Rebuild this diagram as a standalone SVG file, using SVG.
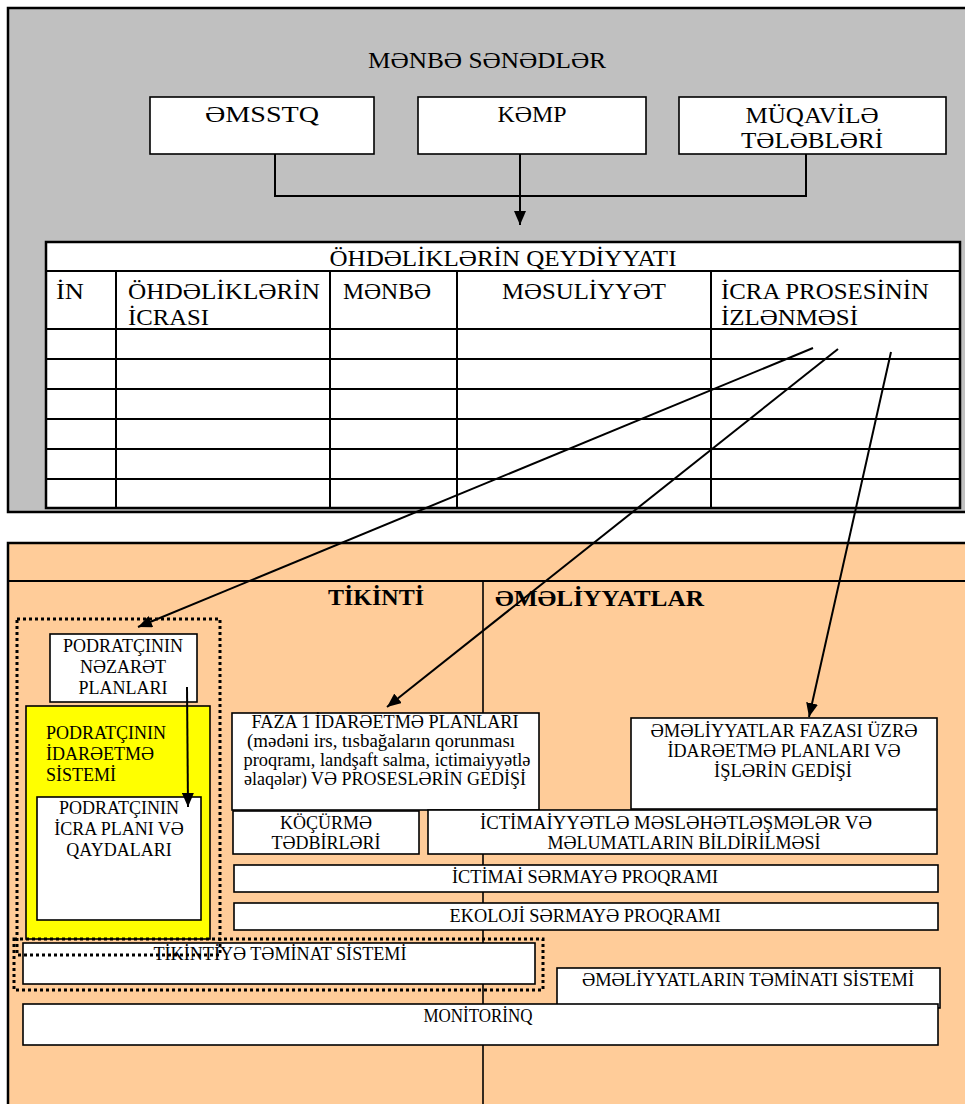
<svg xmlns="http://www.w3.org/2000/svg" width="965" height="1104" viewBox="0 0 965 1104">
<defs>
<marker id="ah" viewBox="0 0 14 12" refX="14" refY="6" markerWidth="14" markerHeight="12" markerUnits="userSpaceOnUse" orient="auto">
<path d="M0,0 L14,6 L0,12 z" fill="#000"/>
</marker>
<style>
text{font-family:"Liberation Serif","DejaVu Serif","Times New Roman",serif;fill:#000}
.t24{font-size:24px}
.t18{font-size:18px}
.hd{font-size:24px;font-weight:bold}
.c{text-anchor:middle}
.box{fill:#fff;stroke:#000;stroke-width:1.6}
.grid{stroke:#000;stroke-width:2;fill:none}
.dot{fill:none;stroke:#000;stroke-width:3;stroke-dasharray:3 3}
.ln{fill:none;stroke:#000;stroke-width:2}
</style>
</defs>

<!-- top gray panel -->
<g id="panel-top">
<rect x="8" y="8" width="970" height="504" fill="#C0C0C0" stroke="#000" stroke-width="2.5"/>
<text class="t24 c" x="487" y="68" textLength="238" lengthAdjust="spacingAndGlyphs">MƏNBƏ SƏNƏDLƏR</text>
</g>

<g id="n-emsstq">
<rect class="box" x="150" y="97" width="224" height="57"/>
<text class="t24 c" x="262" y="122" textLength="114" lengthAdjust="spacingAndGlyphs">ƏMSSTQ</text>
</g>
<g id="n-kemp">
<rect class="box" x="418" y="97" width="228" height="57"/>
<text class="t24 c" x="532" y="122" textLength="69" lengthAdjust="spacingAndGlyphs">KƏMP</text>
</g>
<g id="n-muqavile">
<rect class="box" x="679" y="97" width="267" height="57"/>
<text class="t24 c" x="812" y="123" textLength="133" lengthAdjust="spacingAndGlyphs">MÜQAVİLƏ</text>
<text class="t24 c" x="812" y="148" textLength="142" lengthAdjust="spacingAndGlyphs">TƏLƏBLƏRİ</text>
</g>

<!-- table -->
<g id="n-table">
<rect x="46" y="242" width="914" height="266" fill="#fff" stroke="#000" stroke-width="2.5"/>
<path class="grid" d="M46,271 H960 M46,329 H960 M46,359 H960 M46,389 H960 M46,419 H960 M46,449 H960 M46,479 H960 M116,271 V508 M330,271 V508 M457,271 V508 M711,271 V508"/>
<text class="t24 c" x="503" y="266" textLength="347" lengthAdjust="spacingAndGlyphs">ÖHDƏLİKLƏRİN QEYDİYYATI</text>
<text class="t24" x="56" y="299" textLength="28" lengthAdjust="spacingAndGlyphs">İN</text>
<text class="t24" x="128" y="299" textLength="192" lengthAdjust="spacingAndGlyphs">ÖHDƏLİKLƏRİN</text>
<text class="t24" x="128" y="325" textLength="81" lengthAdjust="spacingAndGlyphs">İCRASI</text>
<text class="t24" x="343" y="299" textLength="88" lengthAdjust="spacingAndGlyphs">MƏNBƏ</text>
<text class="t24 c" x="584" y="299" textLength="164" lengthAdjust="spacingAndGlyphs">MƏSULİYYƏT</text>
<text class="t24" x="721" y="299" textLength="208" lengthAdjust="spacingAndGlyphs">İCRA PROSESİNİN</text>
<text class="t24" x="721" y="325" textLength="137" lengthAdjust="spacingAndGlyphs">İZLƏNMƏSİ</text>
</g>

<!-- bottom orange panel -->
<g id="panel-bottom">
<rect x="8" y="543" width="970" height="580" fill="#FFCC99" stroke="#000" stroke-width="2.5"/>
<line x1="8" y1="581" x2="965" y2="581" stroke="#000" stroke-width="2"/>
<line x1="483" y1="581" x2="483" y2="1104" stroke="#000" stroke-width="1.6"/>
<text class="hd c" x="376" y="605">TİKİNTİ</text>
<text class="hd" x="495" y="606" textLength="209" lengthAdjust="spacingAndGlyphs">ƏMƏLİYYATLAR</text>
</g>

<g id="n-nezaret">
<rect class="box" x="50" y="634" width="147" height="68"/>
<text class="t18 c" x="123" y="652">PODRATÇININ</text>
<text class="t18 c" x="123" y="673">NƏZARƏT</text>
<text class="t18 c" x="123" y="694">PLANLARI</text>
</g>

<g id="n-idareetme">
<rect x="26" y="706" width="184" height="233" fill="#FFFF00" stroke="#000" stroke-width="1.6"/>
<text class="t18" x="46" y="739">PODRATÇININ</text>
<text class="t18" x="46" y="760">İDARƏETMƏ</text>
<text class="t18" x="46" y="781">SİSTEMİ</text>
</g>
<g id="n-icra">
<rect class="box" x="37" y="797" width="164" height="123"/>
<text class="t18 c" x="119" y="814">PODRATÇININ</text>
<text class="t18 c" x="119" y="835">İCRA PLANI VƏ</text>
<text class="t18 c" x="119" y="856">QAYDALARI</text>
</g>

<g id="n-faza1">
<rect class="box" x="232" y="713" width="307" height="97"/>
<text class="t18 c" x="385" y="728" textLength="267" lengthAdjust="spacingAndGlyphs">FAZA 1 İDARƏETMƏ PLANLARI</text>
<text class="t18 c" x="381" y="747" textLength="268" lengthAdjust="spacingAndGlyphs">(mədəni irs, tısbağaların qorunması</text>
<text class="t18 c" x="387" y="766" textLength="287" lengthAdjust="spacingAndGlyphs">proqramı, landşaft salma, ictimaiyyətlə</text>
<text class="t18 c" x="385" y="785" textLength="282" lengthAdjust="spacingAndGlyphs">əlaqələr) VƏ PROSESLƏRİN GEDİŞİ</text>
</g>

<g id="n-emeliyyat-faza">
<rect class="box" x="631" y="718" width="306" height="91"/>
<text class="t18 c" x="784" y="737" textLength="267" lengthAdjust="spacingAndGlyphs">ƏMƏLİYYATLAR FAZASI ÜZRƏ</text>
<text class="t18 c" x="784" y="757" textLength="233" lengthAdjust="spacingAndGlyphs">İDARƏETMƏ PLANLARI VƏ</text>
<text class="t18 c" x="783" y="777" textLength="138" lengthAdjust="spacingAndGlyphs">İŞLƏRİN GEDİŞİ</text>
</g>

<g id="n-kocurme">
<rect class="box" x="233" y="811" width="186" height="43"/>
<text class="t18 c" x="326" y="829">KÖÇÜRMƏ</text>
<text class="t18 c" x="326" y="849">TƏDBİRLƏRİ</text>
</g>

<g id="n-ictimaiyyet">
<rect class="box" x="428" y="810" width="509" height="44"/>
<text class="t18 c" x="676" y="829" textLength="392" lengthAdjust="spacingAndGlyphs">İCTİMAİYYƏTLƏ MƏSLƏHƏTLƏŞMƏLƏR VƏ</text>
<text class="t18 c" x="684" y="849" textLength="273" lengthAdjust="spacingAndGlyphs">MƏLUMATLARIN BİLDİRİLMƏSİ</text>
</g>

<g id="n-ictimai-sermaye">
<rect class="box" x="234" y="865" width="704" height="27"/>
<text class="t18 c" x="585" y="883" textLength="266" lengthAdjust="spacingAndGlyphs">İCTİMAİ SƏRMAYƏ PROQRAMI</text>
</g>

<g id="n-ekoloji">
<rect class="box" x="234" y="903" width="704" height="27"/>
<text class="t18 c" x="585" y="922" textLength="271" lengthAdjust="spacingAndGlyphs">EKOLOJİ SƏRMAYƏ PROQRAMI</text>
</g>

<g id="n-tikinti-teminat">
<rect class="box" x="23" y="943" width="512" height="41"/>
<text class="t18 c" x="280" y="960" textLength="253" lengthAdjust="spacingAndGlyphs">TİKİNTİYƏ TƏMİNAT SİSTEMİ</text>
</g>

<g id="n-emeliyyat-teminat">
<rect class="box" x="557" y="968" width="383" height="40"/>
<text class="t18 c" x="748" y="986" textLength="332" lengthAdjust="spacingAndGlyphs">ƏMƏLİYYATLARIN TƏMİNATI SİSTEMİ</text>
</g>

<g id="n-monitorinq">
<rect class="box" x="23" y="1004" width="915" height="41"/>
<text class="t18 c" x="478" y="1022" textLength="109" lengthAdjust="spacingAndGlyphs">MONİTORİNQ</text>
</g>

<g id="groups-dotted">
<rect class="dot" x="17" y="619" width="203" height="336"/>
<rect class="dot" x="14" y="939" width="529" height="51"/>
</g>

<g id="connectors">
<path class="ln" d="M275,154 V196 H806 V154"/>
<line class="ln" x1="520" y1="154" x2="520" y2="225" marker-end="url(#ah)"/>
<line class="ln" x1="813" y1="348" x2="138" y2="627" marker-end="url(#ah)"/>
<line class="ln" x1="838" y1="349" x2="387" y2="707" marker-end="url(#ah)"/>
<line class="ln" x1="891" y1="352" x2="809" y2="717" stroke-width="1.6" marker-end="url(#ah)"/>
<line class="ln" x1="187" y1="687" x2="188" y2="807" marker-end="url(#ah)"/>
</g>
</svg>
